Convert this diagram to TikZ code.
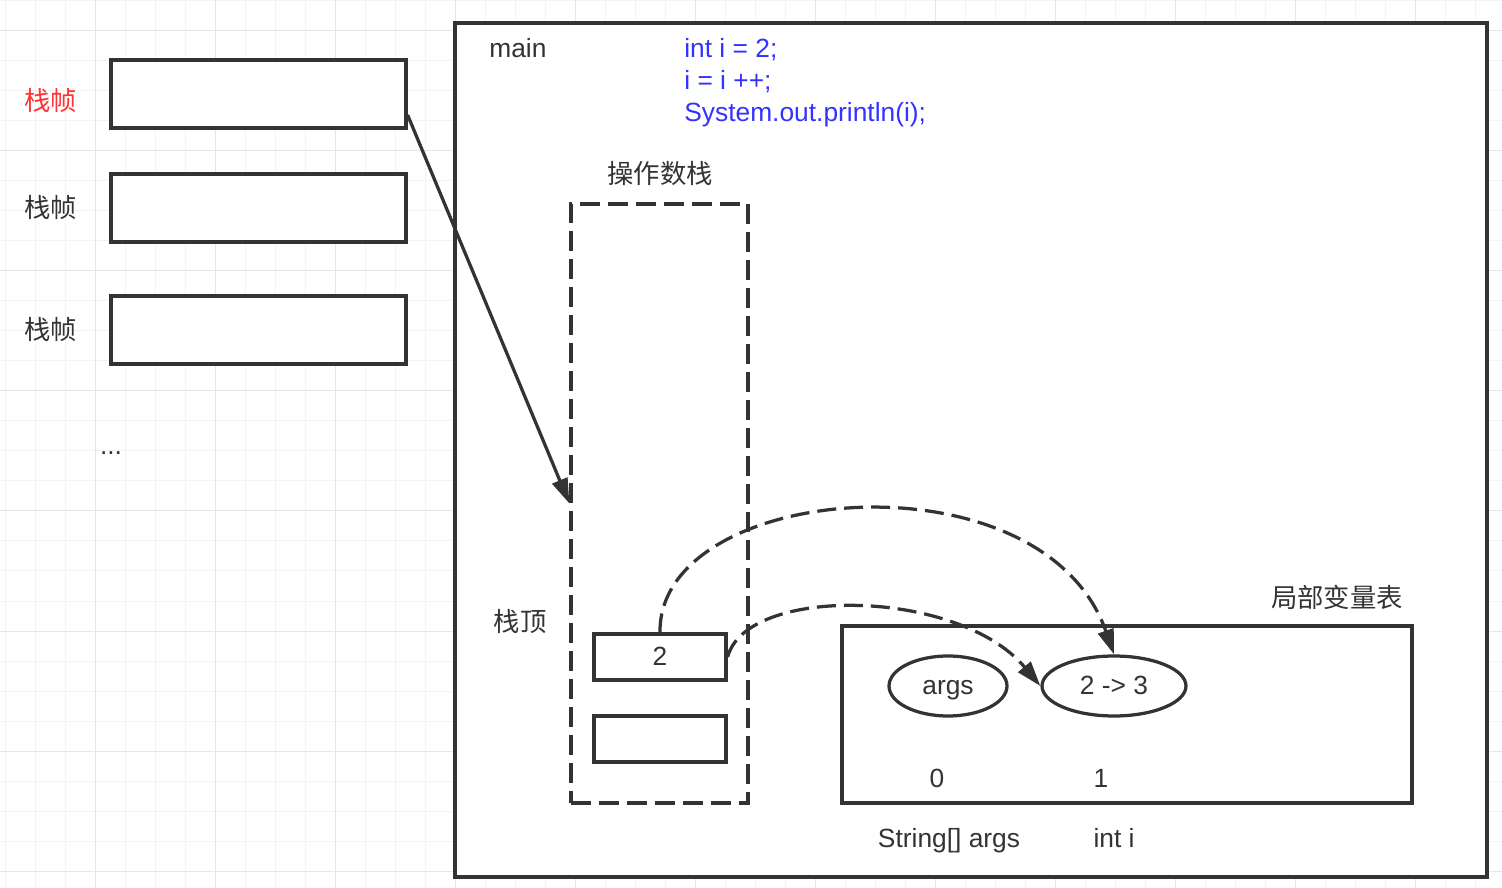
\documentclass[tikz,border=0pt]{standalone}
\usepackage{fontspec}
\setmainfont{Liberation Sans}
\newfontfamily\cjk{Noto Sans CJK SC}
\usepackage{tikz}
\usetikzlibrary{shapes,arrows.meta,positioning}
\definecolor{ink}{HTML}{333333}
\definecolor{codeblue}{HTML}{3333FF}
\definecolor{markred}{HTML}{FF3333}
\definecolor{gridminor}{HTML}{F3F3F3}
\definecolor{gridmajor}{HTML}{E6E6E6}
\tikzstyle{txt} = [inner sep=0pt, text=ink, text height=0.72em, text depth=0pt]
\tikzstyle{frame} = [draw=ink, line width=0.065cm, fill=white, minimum width=5.9cm,
    minimum height=1.36cm, inner sep=0pt]
\tikzstyle{slot} = [txt, text height=0.98em, draw=ink, line width=0.065cm, fill=white,
    minimum width=2.64cm, minimum height=0.92cm]
\tikzstyle{var} = [txt, text height=0.98em, draw=ink, ellipse, line width=0.065cm,
    fill=white, minimum height=1.2cm]
\tikzstyle{link} = [draw=ink, line width=0.065cm, -{Triangle[length=0.5cm,width=0.32cm]}]
\tikzstyle{dashlink} = [link, dash pattern=on 0.38cm off 0.16cm]

\begin{document}
\begin{tikzpicture}[x=0.02cm, y=-0.02cm, font=\fontsize{15pt}{18pt}\selectfont]
  \useasboundingbox (0,0) rectangle (1502,888);
  \fill[white] (0,0) rectangle (1502,888);
  \foreach \x in {5,35,...,1502} \draw[gridminor, line width=0.02cm] (\x,0) -- (\x,888);
  \foreach \y in {1,31,...,888} \draw[gridminor, line width=0.02cm] (0,\y) -- (1502,\y);
  \foreach \x in {95,215,...,1502} \draw[gridmajor, line width=0.02cm] (\x,0) -- (\x,888);
  \foreach \y in {31,151,...,888} \draw[gridmajor, line width=0.02cm] (0,\y) -- (1502,\y);

  \node [frame] (f1) at (258.5,94) {};
  \node [frame, below of=f1, node distance=2.28cm] (f2) {};
  \node [frame, below of=f2, node distance=2.44cm] (f3) {};
  \node [txt, text=markred] (l1) at (51,104) {\cjk 栈帧};
  \node [txt] (l2) at (51,211) {\cjk 栈帧};
  \node [txt] (l3) at (51,333) {\cjk 栈帧};
  \node [inner sep=0pt, text=ink] (more) at (111,453) {...};

  \node [draw=ink, line width=0.065cm, fill=white, minimum width=20.64cm,
    minimum height=17.08cm] (mainbox) at (971,450) {};
  \node [txt, anchor=west] (name) at (489,51) {main};
  \node [txt, anchor=west, text=codeblue] (c1) at (684,51) {int i = 2;};
  \node [txt, anchor=west, text=codeblue] (c2) at (684,83) {i = i ++;};
  \node [txt, anchor=west, text=codeblue] (c3) at (684,115) {System.out.println(i);};

  \node [draw=ink, line width=0.065cm, dash pattern=on 0.4cm off 0.16cm,
    minimum width=3.54cm, minimum height=11.98cm] (stack) at (659.5,503.5) {};
  \node [txt] (stacktitle) at (660,177) {\cjk 操作数栈};
  \node [txt] (top) at (520,625) {\cjk 栈顶};
  \node [slot] (b2) at (660,657) {2};
  \node [slot, below of=b2, node distance=1.64cm] (b1) {};

  \node [draw=ink, line width=0.065cm, minimum width=11.4cm, minimum height=3.54cm]
    (locals) at (1127,714.5) {};
  \node [txt] (localtitle) at (1337,601) {\cjk 局部变量表};
  \node [var, minimum width=2.36cm] (v0) at (948,686) {args};
  \node [var, minimum width=2.88cm] (v1) at (1114,686) {2 -> 3};
  \node [txt] (i0) at (937,781) {0};
  \node [txt] (i1) at (1101,781) {1};
  \node [txt] (t0) at (949,841) {String[] args};
  \node [txt] (t1) at (1114,841) {int i};

  \draw [link] (f1.-8) -- (stack.west);
  \draw [dashlink] (b2.north) .. controls +(-2,-150) and +(-72,-205) .. (v1.north);
  \draw [dashlink] (b2.east) .. controls +(19,-72) and +(-82,-98) .. (v1.west);
\end{tikzpicture}
\end{document}
